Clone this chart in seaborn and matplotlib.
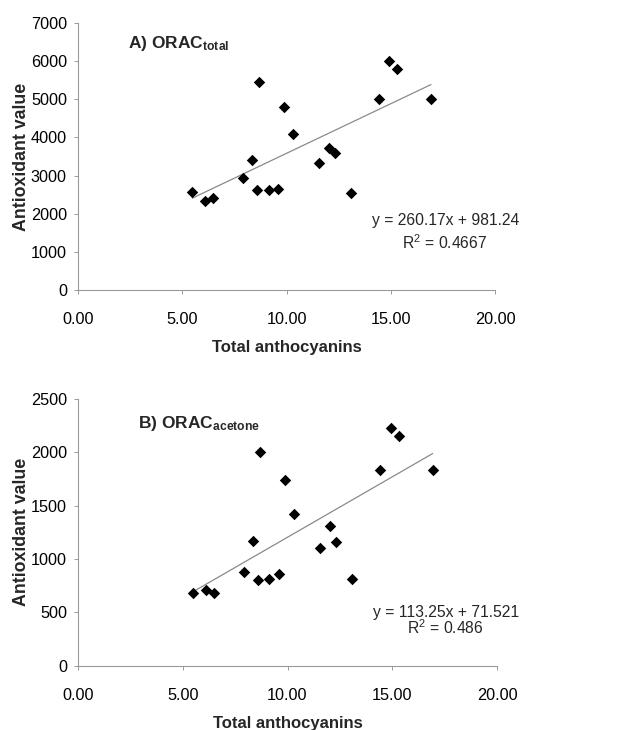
import numpy as np
import pandas as pd
import matplotlib
matplotlib.use("Agg")
import matplotlib.pyplot as plt
import seaborn as sns

# ---- data ----
anthocyanins = [5.48, 6.09, 6.49, 7.93, 8.36, 8.57, 8.70, 9.14, 9.58, 9.88,
                10.33, 11.54, 12.05, 12.31, 13.08, 14.42, 14.92, 15.32, 16.93]
orac_total = [2560, 2330, 2400, 2930, 3410, 2625, 5460, 2625, 2660, 4800,
              4100, 3330, 3730, 3590, 2555, 5020, 6010, 5800, 5020]
orac_acetone = [680, 705, 680, 880, 1170, 800, 2005, 812, 862, 1740,
                1422, 1105, 1305, 1160, 815, 1835, 2230, 2150, 1835]
fit_total = (260.17, 981.24, 0.4667)
fit_acetone = (113.25, 71.521, 0.486)
eq_total = ["y = 260.17x + 981.24", "R$^2$ = 0.4667"]
eq_acetone = ["y = 113.25x + 71.521", "R$^2$ = 0.486"]
titles = [r"A) ORAC$_{\mathbf{total}}$", r"B) ORAC$_{\mathbf{acetone}}$"]
xticks = [0, 5, 10, 15, 20]
yticks_total = [0, 1000, 2000, 3000, 4000, 5000, 6000, 7000]
yticks_acetone = [0, 500, 1000, 1500, 2000, 2500]
xlabel = "Total anthocyanins"
ylabel = "Antioxidant value"

sns.set_style("white")
plt.rcParams['font.family'] = ['Liberation Sans', 'DejaVu Sans']
plt.rcParams['mathtext.fontset'] = 'custom'
plt.rcParams['mathtext.rm'] = 'Liberation Sans'
plt.rcParams['mathtext.bf'] = 'Liberation Sans:bold'
plt.rcParams['mathtext.it'] = 'Liberation Sans:italic'

fig = plt.figure(figsize=(6.31, 7.30), dpi=100)
ax1 = fig.add_axes([78/631, (730-290)/730, 417/631, 267/730])
ax2 = fig.add_axes([78/631, (730-665.7)/730, 419/631, 266.7/730])

df = pd.DataFrame({"x": anthocyanins, "total": orac_total, "acetone": orac_acetone})

spec = [
    (ax1, "total", fit_total, eq_total, titles[0], yticks_total, (0.12, 0.925), (375, 220, 243)),
    (ax2, "acetone", fit_acetone, eq_acetone, titles[1], yticks_acetone, (0.143, 0.91), (378, 612, 628)),
]

for ax, col, fit, eq, title, yt, tpos, eqpos in spec:
    slope, intercept, r2 = fit
    xr = np.array([df["x"].min(), df["x"].max()])
    line_df = pd.DataFrame({"x": xr, "y": slope * xr + intercept})
    sns.lineplot(data=line_df, x="x", y="y", ax=ax, color="#8a8a8a", linewidth=0.9)
    sns.scatterplot(data=df, x="x", y=col, ax=ax, marker="D", s=34,
                    color="black", edgecolor="black", linewidth=0, zorder=3)
    ax.set_xlim(0, 20)
    ax.set_ylim(0, yt[-1])
    ax.set_xticks(xticks)
    ax.set_xticklabels([f"{v:.2f}" for v in xticks])
    ax.set_yticks(yt)
    ax.set_yticklabels([str(v) for v in yt])
    for s in ["top", "right"]:
        ax.spines[s].set_visible(False)
    for s in ["left", "bottom"]:
        ax.spines[s].set_color("#9a9a9a")
        ax.spines[s].set_linewidth(0.8)
    ax.tick_params(axis="both", which="major", labelsize=11.7, colors="black",
                   length=3, width=0.7, color="#9a9a9a", direction="out")
    ax.tick_params(axis="x", pad=13, bottom=True)
    ax.tick_params(axis="y", pad=5, left=True)
    ax.set_xlabel(xlabel, fontsize=12, fontweight="bold")
    ax.set_ylabel(ylabel, fontsize=12.8, fontweight="bold")
    ax.xaxis.label.set_va("center")
    ax.yaxis.label.set_va("center")
    ax.xaxis.set_label_coords(0.5, -0.217)
    ax.yaxis.set_label_coords(-0.135, 0.5)
    ax.text(tpos[0], tpos[1], title, transform=ax.transAxes, fontsize=12.5,
            fontweight="bold", ha="left", va="center")
    fig.text(446/631, 1 - eqpos[1]/730, eq[0], fontsize=11.3, ha="center", va="center")
    fig.text(445/631, 1 - eqpos[2]/730, eq[1], fontsize=11.3, ha="center", va="center")

fig.savefig("out.png", dpi=100)
